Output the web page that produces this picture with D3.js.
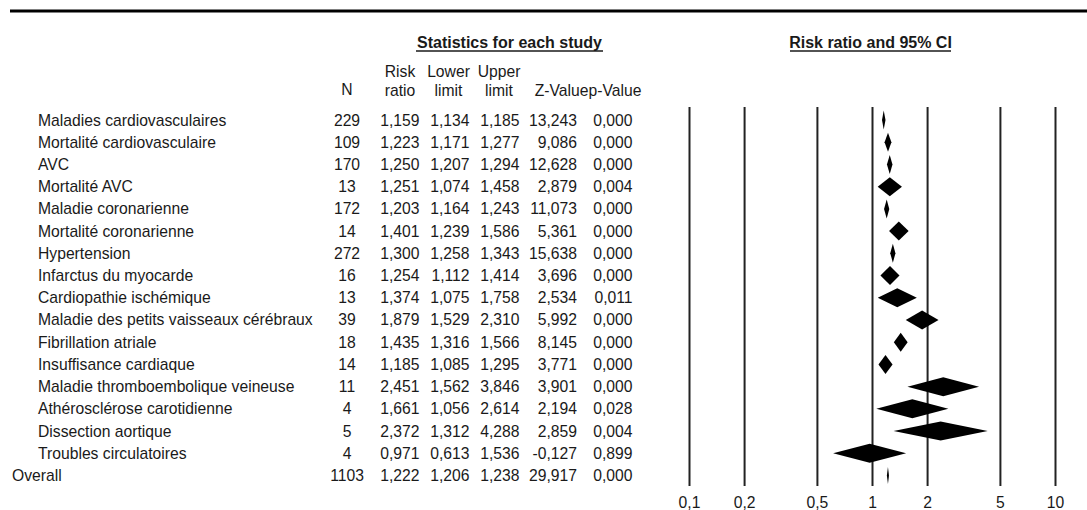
<!DOCTYPE html>
<html><head><meta charset="utf-8">
<script src="https://cdn.jsdelivr.net/npm/d3@7"></script>
<style>
html,body{margin:0;padding:0;background:#fff;}
svg{display:block;font-family:"Liberation Sans",Arial,sans-serif;}
</style></head>
<body>
<svg id="chart" width="1087" height="510"></svg>
<script>
const categories = ["Maladies cardiovasculaires","Mortalité cardiovasculaire","AVC","Mortalité AVC","Maladie coronarienne","Mortalité coronarienne","Hypertension","Infarctus du myocarde","Cardiopathie ischémique","Maladie des petits vaisseaux cérébraux","Fibrillation atriale","Insuffisance cardiaque","Maladie thromboembolique veineuse","Athérosclérose carotidienne","Dissection aortique","Troubles circulatoires","Overall"];
const nValues = [229,109,170,13,172,14,272,16,13,39,18,14,11,4,5,4,1103];
const riskRatio = [1.159,1.223,1.250,1.251,1.203,1.401,1.300,1.254,1.374,1.879,1.435,1.185,2.451,1.661,2.372,0.971,1.222];
const lowerLimit = [1.134,1.171,1.207,1.074,1.164,1.239,1.258,1.112,1.075,1.529,1.316,1.085,1.562,1.056,1.312,0.613,1.206];
const upperLimit = [1.185,1.277,1.294,1.458,1.243,1.586,1.343,1.414,1.758,2.310,1.566,1.295,3.846,2.614,4.288,1.536,1.238];
const zValues = [13.243,9.086,12.628,2.879,11.073,5.361,15.638,3.696,2.534,5.992,8.145,3.771,3.901,2.194,2.859,-0.127,29.917];
const pValues = [0.000,0.000,0.000,0.004,0.000,0.000,0.000,0.000,0.011,0.000,0.000,0.000,0.000,0.028,0.004,0.899,0.000];
const tickValues = [0.1,0.2,0.5,1,2,5,10];
const tickLabels = ["0,1","0,2","0,5","1","2","5","10"];

const svg = d3.select("#chart");
const FS = 15.7;
const ink = "#1a1a1a";

const fmt3 = v => d3.format(".3f")(v).replace(".", ",").replace("−","-");

// scales
const x = d3.scaleLog().domain([0.1, 10]).range([689, 1055]);
const y = d3.scaleLinear().domain([0, categories.length - 1]).range([120, 475.5]);
const gridTop = 107, gridBottom = 486;

// top rule
svg.append("line").attr("x1", 10).attr("x2", 1087).attr("y1", 11).attr("y2", 11)
  .attr("stroke", "#000").attr("stroke-width", 3);

// section headers
function header(text, cx, x1, x2) {
  svg.append("text").attr("x", cx).attr("y", 47.5).attr("text-anchor", "middle")
    .attr("font-size", 16).attr("font-weight", "bold").attr("fill", ink).text(text);
  svg.append("line").attr("x1", x1).attr("x2", x2).attr("y1", 51).attr("y2", 51)
    .attr("stroke", ink).attr("stroke-width", 1.3);
}
header("Statistics for each study", 509.5, 416, 603);
header("Risk ratio and 95% CI", 870.5, 790, 951);

// column headers
const colHeads = [
  {l1: "", l2: "N", x: 347, anchor: "middle"},
  {l1: "Risk", l2: "ratio", x: 400, anchor: "middle"},
  {l1: "Lower", l2: "limit", x: 448.5, anchor: "middle"},
  {l1: "Upper", l2: "limit", x: 499, anchor: "middle"},
  {l1: "", l2: "Z-Value", x: 588.5, anchor: "end"},
  {l1: "", l2: "p-Value", x: 588.5, anchor: "start"}
];
colHeads.forEach(h => {
  if (h.l1) svg.append("text").attr("x", h.x).attr("y", 77).attr("text-anchor", h.anchor)
    .attr("font-size", FS).attr("fill", ink).text(h.l1);
  svg.append("text").attr("x", h.x).attr("y", h.l2 === "N" ? 95 : 96).attr("text-anchor", h.anchor)
    .attr("font-size", FS).attr("fill", ink).text(h.l2);
});

// rows
const rows = svg.append("g");
categories.forEach((c, i) => {
  const by = y(i) + 5.5;
  const isOverall = i === categories.length - 1;
  rows.append("text").attr("x", isOverall ? 12 : 38).attr("y", by)
    .attr("font-size", FS).attr("fill", ink).text(c);
  rows.append("text").attr("x", 347).attr("y", by).attr("text-anchor", "middle")
    .attr("font-size", FS).attr("fill", ink).text(nValues[i]);
  const cols = [[riskRatio, 419.5], [lowerLimit, 469.5], [upperLimit, 519.5], [zValues, 577], [pValues, 632.5]];
  cols.forEach(([arr, rx]) => {
    rows.append("text").attr("x", rx).attr("y", by).attr("text-anchor", "end")
      .attr("font-size", FS).attr("fill", ink).text(fmt3(arr[i]));
  });
});

// axis with gridlines
const axis = d3.axisBottom(x).tickValues(tickValues)
  .tickSize(-(gridBottom - gridTop))
  .tickFormat((d, i) => tickLabels[i]);
const gAxis = svg.append("g").attr("transform", `translate(0,${gridBottom})`).call(axis);
gAxis.select(".domain").remove();
gAxis.selectAll(".tick line").attr("stroke", "#222").attr("stroke-width", 2);
gAxis.selectAll(".tick text").attr("y", 22).attr("dy", 0)
  .attr("font-size", FS).attr("font-family", "Liberation Sans, Arial, sans-serif").attr("fill", ink);

// diamonds
const H = 9.5;
svg.append("g").selectAll("path").data(categories).join("path")
  .attr("d", (c, i) => {
    const cy = y(i);
    const hh = i === categories.length - 1 ? 8.5 : H;
    return `M${x(lowerLimit[i])},${cy}L${x(riskRatio[i])},${cy - hh}L${x(upperLimit[i])},${cy}L${x(riskRatio[i])},${cy + hh}Z`;
  })
  .attr("fill", "#000");
</script>
</body></html>
